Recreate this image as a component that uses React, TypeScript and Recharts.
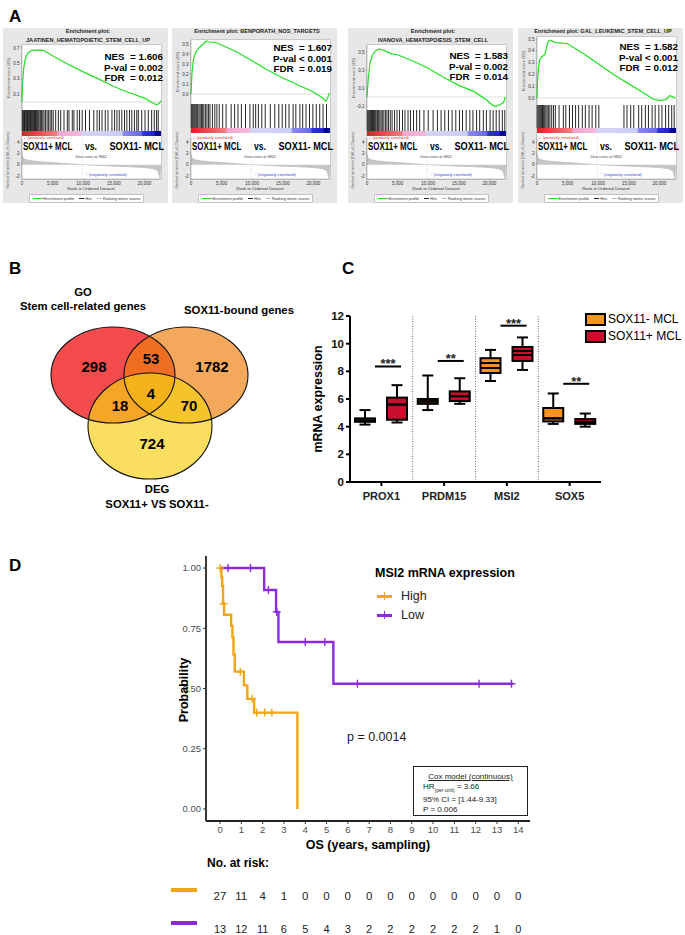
import React from "react";
import {
  Area,
  AreaChart,
  Bar,
  ComposedChart,
  Line,
  LineChart,
  ReferenceLine,
  Scatter,
  ScatterChart,
  XAxis,
  YAxis,
} from "recharts";

const FONT = "'Liberation Sans', Arial, sans-serif";

// ---------- panel A: GSEA ----------
const GSEA_TITLES = [
  ["Enrichment plot:", "JAATINEN_HEMATOPOIETIC_STEM_CELL_UP"],
  ["Enrichment plot: BENPORATH_NOS_TARGETS"],
  ["Enrichment plot:", "IVANOVA_HEMATOPOIESIS_STEM_CELL"],
  ["Enrichment plot: GAL_LEUKEMIC_STEM_CELL_UP"],
];
const GSEA_NES = ["1.606", "1.607", "1.583", "1.582"];
const GSEA_PVAL = ["= 0.002", "< 0.001", "= 0.002", "< 0.001"];
const GSEA_FDR = ["0.012", "0.019", "0.014", "0.012"];

const RANK_MAX = 22700;
const ZERO_CROSS = 9842;
const RANK_TICKS = [0, 5000, 10000, 15000, 20000];
const METRIC_TICKS = [-2, 0, 2, 4];
const ES_TICKS = [
  [0, 0.1, 0.2, 0.3, 0.4, 0.5, 0.6, 0.7],
  [-0.1, 0, 0.1, 0.2, 0.3, 0.4, 0.5],
  [-0.1, 0, 0.1, 0.2, 0.3, 0.4, 0.5],
  [0, 0.1, 0.2, 0.3, 0.4, 0.5],
];
const ES_DOMAIN = [
  [-0.104, 0.739],
  [-0.1, 0.54],
  [-0.144, 0.578],
  [-0.059, 0.517],
];

// [rank, enrichment score]
const ES_CURVES = [
  [[0, 0], [100, 0.25], [300, 0.45], [600, 0.58], [1000, 0.64], [1600, 0.67], [2500, 0.675], [3500, 0.67],
   [5000, 0.6], [7500, 0.49], [10000, 0.39], [12500, 0.3], [15000, 0.2], [17500, 0.12], [20000, 0.05],
   [21500, -0.02], [22000, -0.035], [22400, -0.02], [22700, 0.02]],
  [[0, 0], [150, 0.2], [400, 0.35], [800, 0.42], [1300, 0.46], [2000, 0.5], [2500, 0.53], [3000, 0.52],
   [4000, 0.515], [5000, 0.49], [7500, 0.42], [10000, 0.33], [12500, 0.24], [15000, 0.16], [17500, 0.09],
   [20000, 0.02], [21500, -0.04], [22000, -0.07], [22300, -0.04], [22600, 0.01]],
  [[0, 0], [200, 0.2], [500, 0.38], [900, 0.47], [1500, 0.52], [2000, 0.535], [3000, 0.51], [4000, 0.48],
   [5000, 0.47], [7500, 0.4], [10000, 0.32], [12500, 0.22], [15000, 0.13], [17500, 0.06], [19500, -0.03],
   [20500, -0.09], [21000, -0.105], [21800, -0.08], [22300, -0.06], [22600, 0.0]],
  [[0, 0], [100, 0.17], [400, 0.32], [800, 0.35], [1300, 0.37], [1800, 0.48], [2200, 0.49], [3000, 0.47],
   [4000, 0.465], [5000, 0.46], [7500, 0.38], [10000, 0.29], [12500, 0.2], [15000, 0.12], [17500, 0.04],
   [19000, -0.01], [20000, -0.02], [21000, -0.015], [21700, 0.02], [22200, 0.01], [22600, 0.0]],
];

// ranks of gene-set members (barcode)
const HITS = [
  [60, 180, 300, 420, 520, 650, 780, 900, 1020, 1150, 1270, 1400, 1520, 1650, 1780, 1900, 2050, 2200, 2350,
   2500, 2650, 2800, 3000, 3200, 3400, 3600, 3850, 4100, 4350, 4600, 4850, 5100, 5500, 5940, 6320, 6860,
   7400, 7670, 8210, 8480, 9020, 9400, 9830, 10370, 11020, 11720, 12260, 12640, 13070, 13600, 14040, 14690,
   15120, 15500, 15880, 16300, 16740, 17120, 17550, 17930, 18360, 18740, 19000, 19550, 20090, 20630, 21170,
   21600, 21980, 22250],
  [50, 200, 350, 500, 650, 800, 950, 1100, 1300, 1500, 1700, 1900, 2100, 2350, 2600, 2850, 3100, 3500,
   3890, 4230, 4610, 5170, 5730, 6560, 7120, 7670, 8230, 8900, 9620, 10170, 10560, 11010, 11560, 12120,
   12950, 13680, 14340, 14900, 15460, 16010, 16680, 17120, 17790, 18240, 18790, 19350, 19900, 20460,
   21020, 21570, 22130],
  [40, 180, 320, 460, 600, 750, 900, 1050, 1200, 1350, 1500, 1700, 1900, 2100, 2300, 2500, 2750, 3000,
   3250, 3500, 3800, 4100, 4500, 4900, 5300, 5800, 6200, 6700, 7100, 7600, 8100, 8600, 9300, 10000,
   10800, 11500, 12100, 12700, 13300, 13900, 14500, 15100, 15600, 16200, 16800, 17300, 17900, 18400,
   19000, 19500, 20100, 20600, 21100, 21600, 22100, 22500],
  [30, 200, 370, 540, 720, 900, 1080, 1260, 1450, 1650, 1850, 2100, 2400, 2700, 3000, 3600, 4300, 4700,
   5300, 5800, 6300, 6800, 7400, 7900, 8500, 9000, 9600, 10100, 14200, 14700, 15300, 15800, 16600,
   17100, 17700, 18200, 18800, 19300, 19900, 20400, 21000, 21500, 22000, 22400],
];

// [rank, ranked list metric]
const RANKED_METRIC = [
  [0, 1.9], [150, 1.2], [500, 0.9], [1500, 0.7], [3000, 0.52], [5000, 0.36], [7500, 0.18], [9842, 0],
  [12500, -0.15], [15000, -0.27], [17500, -0.38], [20000, -0.52], [21500, -0.72], [22200, -1.1],
  [22550, -2.4], [22650, 0],
];

// ---------- panel B: Venn ----------
const VENN_SETS = ["GO Stem cell-related genes", "SOX11-bound genes", "DEG SOX11+ VS SOX11-"];
const VENN_COUNTS = [298, 53, 1782, 4, 18, 70, 724];

// ---------- panel C: box plots ----------
const GENES = ["PROX1", "PRDM15", "MSI2", "SOX5"];
// min, q1, median, q3, max
const NEG_BOX = [
  [4.15, 4.35, 4.45, 4.6, 5.2],
  [5.2, 5.65, 5.8, 6.0, 7.7],
  [7.3, 7.88, 8.24, 8.95, 9.55],
  [4.2, 4.38, 4.6, 5.35, 6.4],
];
const POS_BOX = [
  [4.3, 4.5, 5.6, 6.1, 7.0],
  [5.65, 5.85, 6.2, 6.55, 7.5],
  [8.1, 8.75, 9.18, 9.76, 10.45],
  [4.0, 4.2, 4.35, 4.55, 4.95],
];
const NEG_MEAN = [4.45, 5.85, 8.6, 4.6];
const POS_MEAN = [5.6, 6.2, 9.47, 4.35];
const SIG_Y = [8.35, 8.75, 11.3, 7.1];
const SIG_STARS = ["***", "**", "***", "**"];
const EXPR_TICKS = [0, 2, 4, 6, 8, 10, 12];

// ---------- panel D: Kaplan-Meier ----------
const HIGH_CURVE = [
  [0, 1], [0.06, 0.963], [0.1, 0.926], [0.14, 0.852], [0.19, 0.806], [0.52, 0.76], [0.58, 0.713],
  [0.63, 0.641], [0.69, 0.57], [1.12, 0.513], [1.28, 0.457], [1.6, 0.4], [3.63, 0],
];
const HIGH_CENSOR = [[0, 1], [0.17, 0.852], [0.95, 0.57], [1.5, 0.457], [1.72, 0.4], [2.1, 0.4], [2.43, 0.4]];
const LOW_CURVE = [[0, 1], [2.07, 0.909], [2.63, 0.818], [2.74, 0.693], [5.32, 0.52], [13.75, 0.52]];
const LOW_CENSOR = [
  [0.38, 1], [1.43, 1], [2.27, 0.909], [2.66, 0.818], [4.0, 0.693], [4.92, 0.693], [6.45, 0.52],
  [12.16, 0.52], [13.68, 0.52],
];
const YEAR_TICKS = [0, 1, 2, 3, 4, 5, 6, 7, 8, 9, 10, 11, 12, 13, 14];
const PROB_TICKS = [0, 0.25, 0.5, 0.75, 1];
const RISK_HIGH = [27, 11, 4, 1, 0, 0, 0, 0, 0, 0, 0, 0, 0, 0, 0];
const RISK_LOW = [13, 12, 11, 6, 5, 4, 3, 2, 2, 2, 2, 2, 2, 1, 0];

const ORANGE = "#efa514";
const PURPLE = "#8a2be2";
const SOX_NEG = "#f7941d";
const SOX_POS = "#c8102e";

function T({ x, y, s = 10, b = false, a = "start", c = "#000", rot = 0, sx = 1, u = false, children }: any) {
  const tx = a === "middle" ? "-50%" : a === "end" ? "-100%" : "0";
  const origin = a === "middle" ? "center" : a === "end" ? "right center" : "left center";
  let tf = `translate(${tx}, -50%)`;
  if (rot) tf += ` rotate(${rot}deg)`;
  if (sx !== 1) tf += ` scaleX(${sx})`;
  return (
    <div
      style={{
        position: "absolute",
        left: x,
        top: y,
        fontFamily: FONT,
        fontSize: s,
        fontWeight: b ? 700 : 400,
        color: c,
        whiteSpace: "pre",
        lineHeight: 1,
        textDecoration: u ? "underline" : "none",
        transform: tf,
        transformOrigin: rot ? "center" : origin,
      }}
    >
      {children}
    </div>
  );
}

const tinyTick = { fontSize: 4.5, fill: "#333", fontFamily: FONT };
const thinLine = { stroke: "#888", strokeWidth: 0.5 };

const GSEA_LEFT = [3, 172, 348, 518];
const GSEA_ES_TOP = [45, 40, 45, 37];
const GSEA_ES_BOTTOM = [110, 104, 110, 105];
const GSEA_GRAD_TOP = [131, 128, 131, 128];
const GSEA_NES_Y = [57, 48, 56, 47];

function Gsea({ i }: { i: number }) {
  const L = GSEA_LEFT[i];
  const W = 165;
  const esTop = GSEA_ES_TOP[i];
  const esBottom = GSEA_ES_BOTTOM[i];
  const gradTop = GSEA_GRAD_TOP[i];
  const hitsH = gradTop - esBottom;
  const es = ES_CURVES[i].map(([r, v]) => ({ r, es: v }));
  const hits = HITS[i].map((r) => ({ r, v: 0.5 }));
  const metric = RANKED_METRIC.map(([r, m]) => ({ r, m }));
  const titles = GSEA_TITLES[i];
  const nesY = GSEA_NES_Y[i];
  return (
    <>
      <div style={{ position: "absolute", left: L, top: 28, width: W, height: 175, background: "#e7e7e7" }} />
      <div
        style={{
          position: "absolute",
          left: L + 19,
          top: esTop,
          width: 139,
          height: 179 - esTop,
          background: "#fff",
          boxShadow: "0 0 0 0.5px #aaa",
        }}
      />
      {titles.map((t, k) => (
        <T key={k} x={L + 85} y={32 + k * 9} s={5.6} b a="middle" c="#222">
          {t}
        </T>
      ))}
      <div style={{ position: "absolute", left: L, top: esTop }}>
        <LineChart width={W} height={esBottom - esTop} data={es} margin={{ top: 0, right: 7, bottom: 0, left: 0 }}>
          <XAxis type="number" dataKey="r" domain={[0, RANK_MAX]} hide />
          <YAxis
            type="number"
            domain={ES_DOMAIN[i]}
            ticks={ES_TICKS[i]}
            allowDataOverflow
            width={19}
            tick={tinyTick}
            tickSize={1.5}
            tickMargin={1}
            tickFormatter={(v) => v.toFixed(1)}
            axisLine={thinLine}
            tickLine={thinLine}
          />
          <ReferenceLine y={0} stroke="#bbb" strokeWidth={0.5} />
          <Line dataKey="es" stroke="#22e022" strokeWidth={1.2} dot={false} isAnimationActive={false} />
        </LineChart>
      </div>
      <T x={L + 6} y={(esTop + esBottom) / 2} s={4} a="middle" c="#555" rot={-90}>
        Enrichment score (ES)
      </T>
      <div style={{ position: "absolute", left: L, top: esBottom }}>
        <ScatterChart width={W} height={hitsH} margin={{ top: 0, right: 7, bottom: 0, left: 19 }}>
          <XAxis type="number" dataKey="r" domain={[0, RANK_MAX]} hide />
          <YAxis type="number" dataKey="v" domain={[0, 1]} hide />
          <Scatter
            data={hits}
            isAnimationActive={false}
            shape={(p: any) => (
              <line x1={p.cx} x2={p.cx} y1={p.cy - hitsH / 2} y2={p.cy + hitsH / 2} stroke="#111" strokeWidth={0.9} />
            )}
          />
        </ScatterChart>
      </div>
      <div
        style={{
          position: "absolute",
          left: L + 19,
          top: gradTop,
          width: 139,
          height: 5,
          background:
            "linear-gradient(to right, #dc1f28 0%, #ec4a4e 12%, #f08080 25%, #f2a6d2 26%, #f4b8dc 42%, #d6d4f4 43%, #cccdf5 72%, #8a8aee 73%, #6a6aea 86%, #3232dc 87%, #2424cc 95%, #050590 96%, #050590 100%)",
        }}
      />
      <T x={L + 20} y={138.5} s={3.8} c="#e03030">
        {"'+' (positively correlated)"}
      </T>
      <div style={{ position: "absolute", left: L, top: 138 }}>
        <AreaChart width={W} height={49} data={metric} margin={{ top: 0, right: 7, bottom: 0, left: 0 }}>
          <XAxis
            type="number"
            dataKey="r"
            domain={[0, RANK_MAX]}
            ticks={RANK_TICKS}
            tickFormatter={(v) => v.toLocaleString("en-US")}
            height={8}
            tick={tinyTick}
            tickSize={1.5}
            tickMargin={1}
            axisLine={thinLine}
            tickLine={thinLine}
          />
          <YAxis
            type="number"
            domain={[-2.53, 4.7]}
            ticks={METRIC_TICKS}
            allowDataOverflow
            width={19}
            tick={tinyTick}
            tickSize={1.5}
            tickMargin={1}
            axisLine={thinLine}
            tickLine={thinLine}
          />
          <ReferenceLine x={ZERO_CROSS} stroke="#c8c8c8" strokeDasharray="1 1" strokeWidth={0.5} />
          <Area
            type="linear"
            dataKey="m"
            baseValue={0}
            stroke="#aaa"
            strokeWidth={0.5}
            fill="#c6c6c6"
            fillOpacity={1}
            isAnimationActive={false}
          />
        </AreaChart>
      </div>
      <T x={L + 6} y={160} s={3.6} a="middle" c="#555" rot={-90}>
        Ranked list metric (Diff_of_Classes)
      </T>
      <T x={L + 88} y={158} s={3.8} a="middle" c="#444">
        Zero cross at 9842
      </T>
      <T x={L + 103} y={176} s={3.8} a="middle" c="#3a3ae0">
        {"'-' (negatively correlated)"}
      </T>
      <T x={L + 88} y={188.5} s={4.3} a="middle" c="#333">
        Rank in Ordered Dataset
      </T>
      <div
        style={{
          position: "absolute",
          left: L + 27,
          top: 195,
          width: 113,
          height: 7,
          background: "#fff",
          boxShadow: "0 0 0 0.5px #999",
          display: "flex",
          alignItems: "center",
          justifyContent: "space-around",
          fontFamily: FONT,
          fontSize: 3.8,
          color: "#333",
          whiteSpace: "pre",
        }}
      >
        <span>
          <span style={{ display: "inline-block", width: 10, height: 1, background: "#22e022", verticalAlign: "middle" }} /> Enrichment profile
        </span>
        <span>
          <span style={{ display: "inline-block", width: 5, height: 0.6, background: "#222", verticalAlign: "middle" }} /> Hits
        </span>
        <span>
          <span style={{ display: "inline-block", width: 5, height: 0.6, background: "#bbb", verticalAlign: "middle" }} /> Ranking metric scores
        </span>
      </div>
      <T x={L + 160} y={nesY} s={9.8} b a="end">
        {`NES  = ${GSEA_NES[i]}`}
      </T>
      <T x={L + 160} y={nesY + 10.5} s={9.8} b a="end">
        {`P-val ${GSEA_PVAL[i]}`}
      </T>
      <T x={L + 160} y={nesY + 21} s={9.8} b a="end">
        {`FDR  = ${GSEA_FDR[i]}`}
      </T>
      <T x={L + 20} y={147} s={10.2} b sx={0.78}>SOX11+ MCL</T>
      <T x={L + 88} y={147} s={10.2} b a="middle" sx={0.85}>vs.</T>
      <T x={L + 161} y={147} s={10.2} b a="end" sx={0.9}>SOX11- MCL</T>
    </>
  );
}

// Venn ellipse geometry (page px, drawn through a 1:1 scatter scale)
const VENN_GEOM = [
  { cx: 113, cy: 375, rx: 62, ry: 48, fill: "#f44c4c", op: 1 },
  { cx: 186, cy: 375, rx: 62, ry: 48, fill: "#ee7f0e", op: 0.68 },
  { cx: 150, cy: 426, rx: 62, ry: 53, fill: "#f6cf17", op: 0.69 },
];
const VENN_COUNT_POS = [
  [94, 366], [151, 358], [212, 366], [151, 393], [120, 405], [189, 405], [152, 443],
];

function Venn() {
  return (
    <>
      <div style={{ position: "absolute", left: 40, top: 315 }}>
        <ScatterChart width={240} height={200} margin={{ top: 0, right: 0, bottom: 0, left: 0 }}>
          <XAxis type="number" dataKey="cx" domain={[40, 280]} hide />
          <YAxis type="number" dataKey="cy" domain={[315, 515]} reversed hide />
          {VENN_GEOM.map((g, k) => (
            <Scatter
              key={k}
              name={VENN_SETS[k]}
              data={[g]}
              isAnimationActive={false}
              shape={(p: any) => (
                <ellipse cx={p.cx} cy={p.cy} rx={g.rx} ry={g.ry} fill={g.fill} fillOpacity={g.op} stroke="none" />
              )}
            />
          ))}
          <Scatter
            data={VENN_GEOM}
            isAnimationActive={false}
            shape={(p: any) => (
              <ellipse cx={p.cx} cy={p.cy} rx={p.payload.rx} ry={p.payload.ry} fill="none" stroke="#111" strokeWidth={1.1} />
            )}
          />
        </ScatterChart>
      </div>
      {VENN_COUNTS.map((n, k) => (
        <T key={k} x={VENN_COUNT_POS[k][0]} y={VENN_COUNT_POS[k][1]} s={15} b a="middle">
          {String(n)}
        </T>
      ))}
      <T x={83} y={293} s={11.3} b a="middle">GO</T>
      <T x={83} y={307} s={11.3} b a="middle">Stem cell-related genes</T>
      <T x={239} y={311} s={11.3} b a="middle">SOX11-bound genes</T>
      <T x={157} y={490} s={11.3} b a="middle">DEG</T>
      <T x={157} y={505} s={11.3} b a="middle">SOX11+ VS SOX11-</T>
    </>
  );
}

const boxData = GENES.map((g, k) => ({
  gene: g,
  idx: k + 0.5,
  neg: [NEG_BOX[k][0], NEG_BOX[k][4]],
  pos: [POS_BOX[k][0], POS_BOX[k][4]],
  negStats: NEG_BOX[k],
  posStats: POS_BOX[k],
  negMean: NEG_MEAN[k],
  posMean: POS_MEAN[k],
  sig: SIG_Y[k],
  stars: SIG_STARS[k],
}));

const makeBox = (side: "neg" | "pos", fill: string) => (props: any) => {
  const { x, y, width, height, payload } = props;
  const [mn, q1, md, q3, mx] = payload[side + "Stats"];
  const mean = payload[side + "Mean"];
  const top = Math.min(y, y + height);
  const h = Math.abs(height);
  const k = h / (mx - mn);
  const py = (v: number) => top + (mx - v) * k;
  const cx = x + width / 2;
  const sw = 2;
  return (
    <g>
      <line x1={cx} x2={cx} y1={py(mx)} y2={py(q3)} stroke="#000" strokeWidth={sw} />
      <line x1={cx} x2={cx} y1={py(q1)} y2={py(mn)} stroke="#000" strokeWidth={sw} />
      <line x1={cx - 5.5} x2={cx + 5.5} y1={py(mx)} y2={py(mx)} stroke="#000" strokeWidth={sw} />
      <line x1={cx - 5.5} x2={cx + 5.5} y1={py(mn)} y2={py(mn)} stroke="#000" strokeWidth={sw} />
      <rect x={x} y={py(q3)} width={width} height={Math.max(py(q1) - py(q3), 0.5)} fill={fill} stroke="#000" strokeWidth={sw} />
      <line x1={x} x2={x + width} y1={py(md)} y2={py(md)} stroke="#000" strokeWidth={sw} />
      <line x1={x} x2={x + width} y1={py(mean)} y2={py(mean)} stroke="#000" strokeWidth={sw} />
      {side === "pos" && (
        <>
          <line x1={x - 12} x2={x + width - 6} y1={py(payload.sig)} y2={py(payload.sig)} stroke="#000" strokeWidth={2} />
          <text
            x={x + 1}
            y={py(payload.sig) + 2}
            textAnchor="middle"
            fontFamily={FONT}
            fontSize={13}
            fontWeight={700}
            fill="#222"
          >
            {payload.stars}
          </text>
        </>
      )}
    </g>
  );
};

function BoxPanel() {
  return (
    <>
      <div style={{ position: "absolute", left: 310, top: 305 }}>
        <ComposedChart
          width={291}
          height={202}
          data={boxData}
          margin={{ top: 11, right: 0, bottom: 0, left: 0 }}
          barSize={20}
          barGap={12}
        >
          <XAxis
            dataKey="gene"
            height={25}
            tickSize={4}
            tickMargin={6}
            tick={{ fontSize: 11, fontWeight: 700, fill: "#222", fontFamily: FONT }}
            axisLine={{ stroke: "#000", strokeWidth: 2 }}
            tickLine={{ stroke: "#000", strokeWidth: 2 }}
          />
          <XAxis xAxisId="num" type="number" dataKey="idx" domain={[0, 4]} allowDataOverflow hide />
          <YAxis
            type="number"
            domain={[0, 12]}
            ticks={EXPR_TICKS}
            width={40}
            tickSize={4}
            tickMargin={2}
            tick={{ fontSize: 11.5, fontWeight: 700, fill: "#111", fontFamily: FONT }}
            axisLine={{ stroke: "#000", strokeWidth: 2 }}
            tickLine={{ stroke: "#000", strokeWidth: 2 }}
          />
          {[1, 2, 3].map((v) => (
            <ReferenceLine key={v} xAxisId="num" x={v} stroke="#666" strokeWidth={1} strokeDasharray="1 1.5" />
          ))}
          <Bar dataKey="neg" name="SOX11- MCL" shape={makeBox("neg", SOX_NEG)} isAnimationActive={false} />
          <Bar dataKey="pos" name="SOX11+ MCL" shape={makeBox("pos", SOX_POS)} isAnimationActive={false} />
        </ComposedChart>
      </div>
      <T x={318} y={399} s={12.5} b a="middle" rot={-90}>
        mRNA expression
      </T>
      <div style={{ position: "absolute", left: 585, top: 313, width: 17, height: 9, background: SOX_NEG, border: "2px solid #000" }} />
      <div style={{ position: "absolute", left: 585, top: 330, width: 17, height: 9, background: SOX_POS, border: "2px solid #000" }} />
      <T x={608} y={319} s={12}>SOX11- MCL</T>
      <T x={608} y={336} s={12}>SOX11+ MCL</T>
    </>
  );
}

const cross = (color: string) => (p: any) => (
  <g>
    <line x1={p.cx - 4} x2={p.cx + 4} y1={p.cy} y2={p.cy} stroke={color} strokeWidth={1.4} />
    <line x1={p.cx} x2={p.cx} y1={p.cy - 4} y2={p.cy + 4} stroke={color} strokeWidth={1.4} />
  </g>
);

function KmPanel() {
  const high = HIGH_CURVE.map(([t, s]) => ({ t, s }));
  const low = LOW_CURVE.map(([t, s]) => ({ t, s }));
  const highC = HIGH_CENSOR.map(([t, s]) => ({ t, s }));
  const lowC = LOW_CENSOR.map(([t, s]) => ({ t, s }));
  const x0 = 220;
  const step = 21.3;
  return (
    <>
      <div style={{ position: "absolute", left: 160, top: 540 }}>
        <ComposedChart width={370} height={301} margin={{ top: 16, right: 0, bottom: 0, left: 0 }}>
          <XAxis
            type="number"
            dataKey="t"
            domain={[-0.66, 14.55]}
            ticks={YEAR_TICKS}
            interval={0}
            allowDataOverflow
            height={20}
            tickSize={3}
            tickMargin={2}
            tick={{ fontSize: 9.5, fill: "#4d4d4d", fontFamily: FONT }}
            axisLine={{ stroke: "#222", strokeWidth: 1.8 }}
            tickLine={{ stroke: "#333" }}
          />
          <YAxis
            type="number"
            dataKey="s"
            domain={[-0.05, 1.05]}
            ticks={PROB_TICKS}
            allowDataOverflow
            width={46}
            tickSize={3}
            tickMargin={2}
            tickFormatter={(v) => v.toFixed(2)}
            tick={{ fontSize: 9.5, fill: "#4d4d4d", fontFamily: FONT }}
            axisLine={{ stroke: "#222", strokeWidth: 1.8 }}
            tickLine={{ stroke: "#333" }}
          />
          <Line data={high} dataKey="s" type="stepAfter" stroke={ORANGE} strokeWidth={2.4} dot={false} isAnimationActive={false} />
          <Line data={low} dataKey="s" type="stepAfter" stroke={PURPLE} strokeWidth={2.4} dot={false} isAnimationActive={false} />
          <Scatter data={highC} dataKey="s" shape={cross(ORANGE)} isAnimationActive={false} />
          <Scatter data={lowC} dataKey="s" shape={cross(PURPLE)} isAnimationActive={false} />
        </ComposedChart>
      </div>
      <T x={184} y={690} s={12.5} b a="middle" rot={-90}>
        Probability
      </T>
      <T x={368} y={845} s={12.5} b a="middle">
        OS (years, sampling)
      </T>
      <T x={375} y={573} s={12.5} b>
        MSI2 mRNA expression
      </T>
      <div style={{ position: "absolute", left: 377, top: 595, width: 15, height: 2.5, background: ORANGE }} />
      <div style={{ position: "absolute", left: 383.5, top: 592, width: 1.5, height: 8, background: ORANGE }} />
      <div style={{ position: "absolute", left: 377, top: 614, width: 15, height: 2.5, background: PURPLE }} />
      <div style={{ position: "absolute", left: 383.5, top: 611, width: 1.5, height: 8, background: PURPLE }} />
      <T x={401} y={596} s={12.5} c="#222">High</T>
      <T x={401} y={615} s={12.5} c="#222">Low</T>
      <T x={347} y={737} s={12.5} c="#222">p = 0.0014</T>
      <div
        style={{
          position: "absolute",
          left: 413,
          top: 766,
          width: 113,
          height: 48,
          border: "1.5px solid #222",
          fontFamily: FONT,
          fontSize: 8,
          color: "#222",
          lineHeight: "10px",
        }}
      >
        <div style={{ textAlign: "center", textDecoration: "underline", marginTop: 5 }}>Cox model (continuous)</div>
        <div style={{ paddingLeft: 9 }}>
          HR<sub style={{ fontSize: 5 }}>(per unit)</sub> = 3.66
        </div>
        <div style={{ paddingLeft: 9 }}>95% CI = [1.44-9.33]</div>
        <div style={{ paddingLeft: 9 }}>P = 0.006</div>
      </div>
      <T x={207} y={863} s={12} b>
        No. at risk:
      </T>
      <div style={{ position: "absolute", left: 171, top: 888, width: 26, height: 4, background: ORANGE }} />
      <div style={{ position: "absolute", left: 171, top: 921, width: 26, height: 4, background: PURPLE }} />
      {RISK_HIGH.map((n, k) => (
        <T key={"h" + k} x={x0 + k * step} y={896.5} s={11.5} a="middle" c="#222">
          {String(n)}
        </T>
      ))}
      {RISK_LOW.map((n, k) => (
        <T key={"l" + k} x={x0 + k * step} y={928.5} s={11} a="middle" c="#222">
          {String(n)}
        </T>
      ))}
    </>
  );
}

export default function App() {
  return (
    <div style={{ position: "absolute", left: 0, top: 0, width: 685, height: 935, background: "#fff", overflow: "hidden" }}>
      <T x={9} y={16} s={17} b>A</T>
      {[0, 1, 2, 3].map((i) => (
        <Gsea key={i} i={i} />
      ))}
      <T x={9} y={268} s={17} b>B</T>
      <Venn />
      <T x={342} y={268} s={17} b>C</T>
      <BoxPanel />
      <T x={9} y={565} s={17} b>D</T>
      <KmPanel />
    </div>
  );
}
